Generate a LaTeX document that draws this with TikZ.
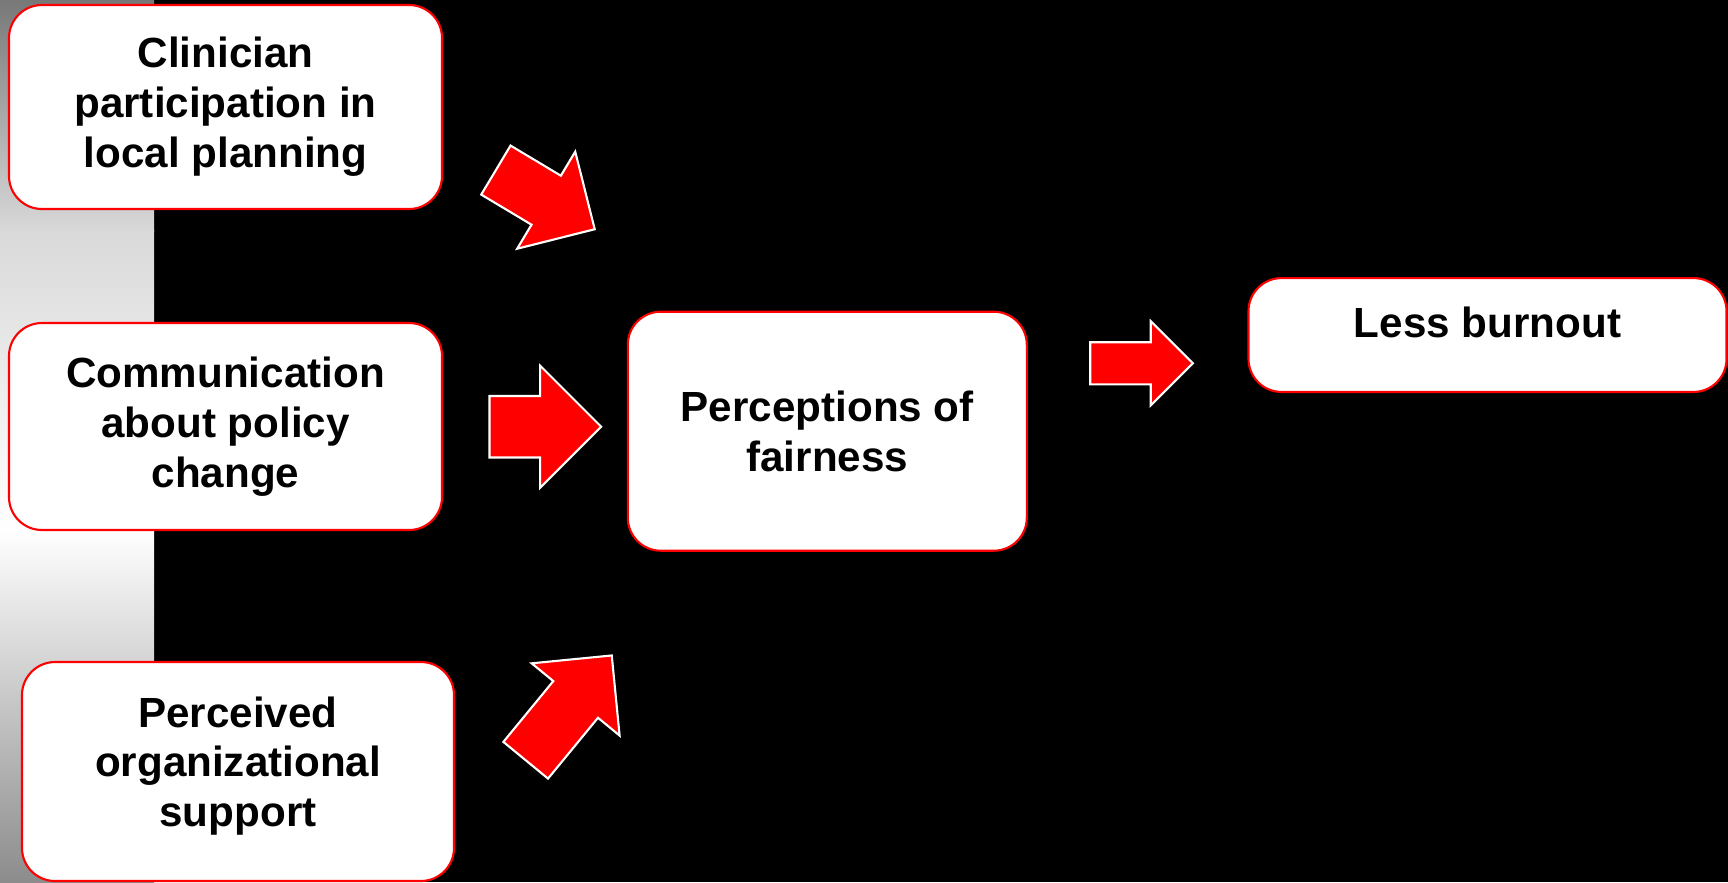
\documentclass[tikz,border=0pt]{standalone}
\usepackage{fontspec}
\setmainfont{Liberation Sans}
\usetikzlibrary{shapes.arrows}
\definecolor{striptop}{RGB}{120,120,120}
\definecolor{stripmid}{RGB}{217,217,217}
\definecolor{stripbot}{RGB}{140,140,140}

\begin{document}
\begin{tikzpicture}[x=0.1mm,y=-0.1mm,
    font=\bfseries\fontsize{12}{14.2}\selectfont,
    box/.style={draw=red,line width=0.6pt,fill=white,rounded corners=3.3mm,
                align=center,inner sep=0pt},
    barrow/.style={single arrow,draw=white,line width=0.6pt,fill=red,
                   single arrow tip angle=90,inner sep=0pt,text depth=0pt,anchor=tip}]
  \useasboundingbox (0,0) rectangle (1728,882);
  % backdrop with the grey strip on the left
  \fill[black] (0,0) rectangle (1728,882);
  \shade[top color=striptop,bottom color=stripmid] (0,0) rectangle (154,231);
  \shade[top color=stripmid,bottom color=white] (0,230) rectangle (154,531);
  \shade[top color=white,bottom color=stripbot] (0,530) rectangle (154,882);

  % the boxes
  \node[box,minimum width=4.33cm,minimum height=2.04cm] (clin) at (225.5,107) {Clinician\\participation in\\local planning};
  \node[box,minimum width=4.33cm,minimum height=2.07cm] (comm) at (225.5,426.5) {Communication\\about policy\\change};
  \node[box,minimum width=4.32cm,minimum height=2.19cm,text depth=5.6pt] (support) at (238,771.5) {Perceived\\organizational\\support};
  \node[box,minimum width=3.99cm,minimum height=2.39cm] (fair) at (827.3,431.2) {Perceptions of\\fairness};
  \node[box,minimum width=4.78cm,text height=17pt,text depth=15.4pt] (burnout) at (1487.5,335) {Less burnout};

  % block arrows
  \node[barrow,minimum height=1.152cm,text height=0.55cm,single arrow head extend=0.28cm,rotate=-30.9] (a1) at (596,230) {};
  \node[barrow,minimum height=1.117cm,text height=0.594cm,single arrow head extend=0.303cm] (a2) at (602.7,426.7) {};
  \node[barrow,minimum height=1.356cm,text height=0.557cm,single arrow head extend=0.28cm,rotate=50.6] (a3) at (612.7,654.3) {};
  \node[barrow,minimum height=1.026cm,text height=0.40cm,single arrow head extend=0.21cm] (a4) at (1194.3,363.3) {};
\end{tikzpicture}
\end{document}
